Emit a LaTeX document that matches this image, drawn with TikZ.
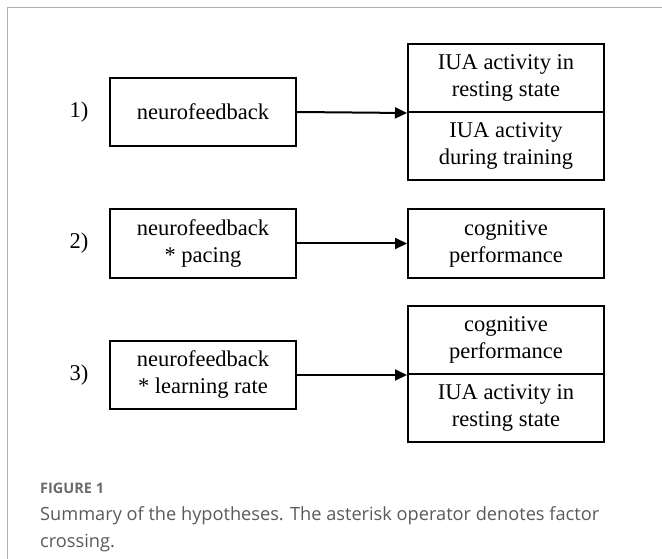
\documentclass[tikz,border=0pt]{standalone}
\usepackage{fontspec}
\setmainfont{Liberation Serif}
\newfontfamily\capfont{Open Sans}
\usetikzlibrary{arrows.meta}
\definecolor{capgray}{HTML}{5A5A5A}
\definecolor{figgray}{HTML}{6B6B6B}
\definecolor{framegray}{HTML}{B0B0B0}
\begin{document}
\begin{tikzpicture}[x=1pt,y=-1pt,
  box/.style={draw, line width=2pt, minimum width=186pt, minimum height=68pt, inner sep=0pt, align=center, font=\fontsize{22.5}{27}\selectfont},
  cell/.style={box, minimum width=196pt},
  lab/.style={font=\fontsize{22.5}{27}\selectfont},
  arr/.style={line width=2pt, -{Triangle[length=12pt,width=11pt]}},
  framestyle/.style={draw=framegray, line width=1pt},
  figlabel/.style={anchor=base west, inner sep=0pt, text=figgray, font=\capfont\bfseries\fontsize{14.5}{16}\selectfont},
  captext/.style={anchor=base west, inner sep=0pt, text=capgray, font=\capfont\fontsize{18.2}{27}\selectfont}]
\useasboundingbox (0,0) rectangle (662,559);
\draw[framestyle] (7,559) -- (7,8) -- (662,8);
% row 1
\node[lab] (n1) at (79,112) {1)};
\node[box] (l1) at (203,112) {neurofeedback};
\node[cell] (r1a) at (506,78) {IUA activity in\\resting state};
\node[cell] (r1b) at (506,146) {IUA activity\\during training};
\draw[arr] (l1.east) -- (r1a.south west);
% row 2
\node[lab] (n2) at (79,243.5) {2)};
\node[box] (l2) at (203,243.5) {neurofeedback\\* pacing};
\node[cell] (r2) at (506,243.5) {cognitive\\performance};
\draw[arr] (l2.east) -- (r2.west);
% row 3
\node[lab] (n3) at (79,375) {3)};
\node[box] (l3) at (203,375) {neurofeedback\\* learning rate};
\node[cell] (r3a) at (506,340) {cognitive\\performance};
\node[cell] (r3b) at (506,408) {IUA activity in\\resting state};
\draw[arr] (l3.east) -- (r3a.south west);
% caption
\node[figlabel] (fig) at (40,493) {FIGURE 1};
\node[captext] (cap1) at (40,520) {Summary of the hypotheses. The asterisk operator denotes factor};
\node[captext] (cap2) at (40,547) {crossing.};
\end{tikzpicture}
\end{document}
